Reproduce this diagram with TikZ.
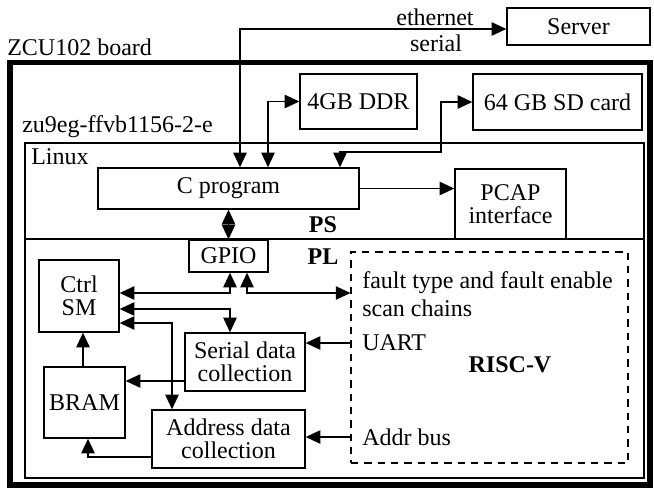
\documentclass[tikz,border=0pt]{standalone}
\usepackage{fontspec}
\setmainfont{Liberation Serif}
\usetikzlibrary{arrows.meta}
\begin{document}
\begin{tikzpicture}[x=0.75pt,y=-0.75pt,
  every node/.style={font=\fontsize{18}{17.5}\selectfont},
  sz/.style 2 args={minimum width=#1*0.75pt, minimum height=#2*0.75pt},
  box/.style={draw, line width=1pt, inner sep=0pt, align=center},
  lbl/.style={inner sep=0pt, anchor=west},
  bold/.style={font=\fontsize{18}{17.5}\selectfont\bfseries},
  tip/.tip={Triangle[length=11pt,width=10pt]},
  conn/.style={line width=1.1pt, -tip},
  conn2/.style={line width=1.1pt, tip-tip},
]
\useasboundingbox (0,0) rectangle (654,489);

% frames
\node[draw, line width=4pt, inner sep=0pt, sz={640}{422.5}] (board) at (330,273.75) {};
\node[draw, line width=1.6pt, inner sep=0pt, sz={619}{335}] (chip) at (334.5,310.5) {};
\coordinate (yDiv) at (0,239);
\draw[line width=1pt] (chip.west |- yDiv) -- (chip.east |- yDiv);

% labels
\node[lbl] (zcu) at (7,47) {ZCU102 board};
\node[lbl] (zu9) at (22,127) {zu9eg-ffvb1156-2-e};
\node[lbl] (linux) at (31,157) {Linux};
\node[bold] (ps) at (323,225) {PS};
\node[bold] (pl) at (323,257) {PL};
\node (eth) at (435,17) {ethernet};
\node (ser) at (436,43) {serial};

% boxes
\node[box, sz={143}{37}] (server) at (578.5,26.5) {Server};
\node[box, sz={117}{55}] (ddr) at (358.5,101.5) {4GB DDR};
\node[box, sz={169}{56}] (sd) at (557.5,102) {64 GB SD card};
\node[box, sz={261}{41}] (cprog) at (228.5,188.5) {C program};
\node[box, sz={111}{70}] (pcap) at (510.5,204) {PCAP\\interface};
\node[box, sz={79}{32}] (gpio) at (228.5,256) {GPIO};
\node[box, sz={80}{72}] (ctrl) at (79,296) {Ctrl\\SM};
\node[box, sz={120}{58}] (serial) at (245,362) {Serial data\\collection};
\node[box, sz={81}{71}] (bram) at (84.5,402.5) {BRAM};
\node[box, sz={153}{58}] (addr) at (228.5,439) {Address data\\collection};
\node[draw, line width=0.8pt, dash pattern=on 5.5pt off 4.5pt, inner sep=0pt, sz={277}{211}] (risc) at (489.5,357.5) {};

% RISC-V texts
\node[lbl] (ft) at (362,283) {fault type and fault enable};
\node[lbl] (sc) at (362,308) {scan chains};
\node[lbl] (uart) at (362,343) {UART};
\node[bold] (rv) at (510,365) {RISC-V};
\node[lbl] (abus) at (362,437) {Addr bus};

% connectors
\coordinate (ethx) at (240,29);
\draw[conn2] (cprog.north -| ethx) |- (server.west |- ethx);
\coordinate (ddrx) at (268,0);
\draw[conn2] (cprog.north -| ddrx) |- (ddr.west);
\coordinate (sdA) at (340,152);
\coordinate (sdB) at (441,152);
\draw[conn2] (cprog.north -| sdA) -- (sdA) -- (sdB) |- (sd.west);
\draw[conn] (cprog.east) -- (cprog.east -| pcap.west);
\draw[conn2] (cprog.south -| gpio.north) -- (gpio.north);
\coordinate (gA) at (230,293);
\draw[conn2] (gpio.south -| gA) |- (ctrl.east |- gA);
\coordinate (gB) at (247,293);
\draw[conn2] (gpio.south -| gB) |- (risc.west |- gB);
\coordinate (cs) at (230,309);
\draw[conn2] (ctrl.east |- cs) -| (serial.north -| cs);
\coordinate (ca) at (172,323);
\draw[conn2] (ctrl.east |- ca) -| (addr.north -| ca);
\coordinate (ua) at (0,343);
\draw[conn] (risc.west |- ua) -- (serial.east |- ua);
\coordinate (ab) at (0,437);
\draw[conn] (risc.west |- ab) -- (addr.east |- ab);
\coordinate (sb) at (0,381);
\draw[conn] (serial.west |- sb) -- (bram.east |- sb);
\coordinate (abr) at (88,457);
\draw[conn] (addr.west |- abr) -| (bram.south -| abr);
\coordinate (bc) at (83,0);
\draw[conn] (bram.north -| bc) -- (ctrl.south -| bc);
\end{tikzpicture}
\end{document}
